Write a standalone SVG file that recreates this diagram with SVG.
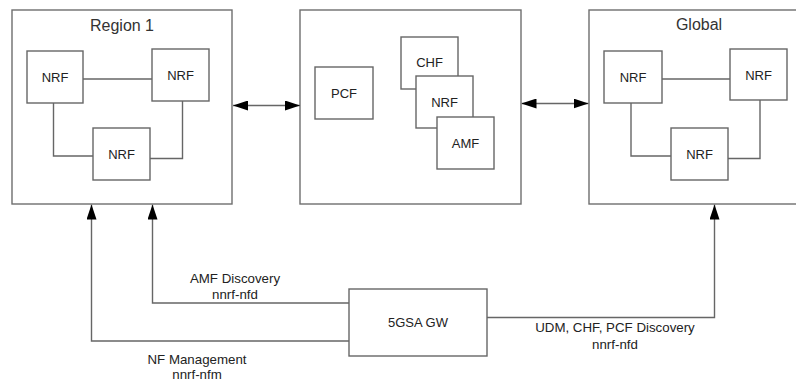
<svg xmlns="http://www.w3.org/2000/svg" width="796" height="384" viewBox="0 0 796 384">
<defs>
<style>
.box{fill:#fff;stroke:#6e6e6e;stroke-width:1.4}
.nf{fill:#fff;stroke:#666;stroke-width:1.4}
.ln{fill:none;stroke:#666;stroke-width:1.4}
.t{font-family:"Liberation Sans",Arial,sans-serif;font-size:13px;fill:#222;text-anchor:middle}
.title{font-family:"Liberation Sans",Arial,sans-serif;font-size:16px;fill:#333;text-anchor:middle}
.lbl{font-family:"Liberation Sans",Arial,sans-serif;font-size:13.3px;fill:#222;text-anchor:middle}
</style>
<marker id="ah" viewBox="0 0 15 10" refX="15" refY="5" markerWidth="15" markerHeight="10" markerUnits="userSpaceOnUse" orient="auto-start-reverse">
<path d="M0,0 L15,5 L0,10 Z" fill="#000"/>
</marker>
</defs>
<rect width="796" height="384" fill="#fff"/>
<g id="region1">
<rect class="box" x="12" y="10" width="220" height="194"/>
<text class="title" x="122" y="31">Region 1</text>
</g>
<g id="middle">
<rect class="box" x="300" y="10" width="221" height="194"/>
</g>
<g id="global">
<rect class="box" x="589" y="10" width="220" height="194"/>
<text class="title" x="699" y="30">Global</text>
</g>
<g id="connectors">
<polyline class="ln" points="83,79 152,79"/>
<polyline class="ln" points="53.5,103 53.5,156 93,156"/>
<polyline class="ln" points="182.5,101 182.5,158.5 150,158.5"/>
<polyline class="ln" points="662,79 730,79"/>
<polyline class="ln" points="631,103 631,156 671,156"/>
<polyline class="ln" points="760,100 760,158.5 728,158.5"/>
<line class="ln" x1="233" y1="105.5" x2="300" y2="105.5" marker-start="url(#ah)" marker-end="url(#ah)"/>
<line class="ln" x1="521.5" y1="103.5" x2="588.5" y2="103.5" marker-start="url(#ah)" marker-end="url(#ah)"/>
<polyline class="ln" points="349,303 152.5,303 152.5,204.5" marker-end="url(#ah)"/>
<polyline class="ln" points="349,341 91.5,341 91.5,204.5" marker-end="url(#ah)"/>
<polyline class="ln" points="487,317.5 714.5,317.5 714.5,204.5" marker-end="url(#ah)"/>
<text class="lbl" x="235" y="283">AMF Discovery</text>
<text class="lbl" x="235" y="299">nnrf-nfd</text>
<text class="lbl" x="197" y="364">NF Management</text>
<text class="lbl" x="197" y="379">nnrf-nfm</text>
<text class="lbl" x="615" y="332">UDM, CHF, PCF Discovery</text>
<text class="lbl" x="615" y="349">nnrf-nfd</text>
</g>
<g id="r1-nrf-a"><rect class="nf" x="27" y="51" width="56" height="52"/><text class="t" x="55" y="82">NRF</text></g>
<g id="r1-nrf-b"><rect class="nf" x="152" y="49" width="57" height="52"/><text class="t" x="180.5" y="80">NRF</text></g>
<g id="r1-nrf-c"><rect class="nf" x="93" y="128" width="57" height="52"/><text class="t" x="121.5" y="159">NRF</text></g>
<g id="pcf"><rect class="nf" x="315" y="67" width="58" height="52"/><text class="t" x="344" y="98">PCF</text></g>
<g id="chf"><rect class="nf" x="401" y="37" width="57" height="52"/><text class="t" x="429.5" y="67">CHF</text></g>
<g id="mid-nrf"><rect class="nf" x="416" y="76" width="57" height="52"/><text class="t" x="444.5" y="107">NRF</text></g>
<g id="amf"><rect class="nf" x="437" y="117" width="57" height="52"/><text class="t" x="465.5" y="147.5">AMF</text></g>
<g id="g-nrf-a"><rect class="nf" x="604" y="51" width="58" height="52"/><text class="t" x="633" y="82">NRF</text></g>
<g id="g-nrf-b"><rect class="nf" x="730" y="49" width="57" height="51"/><text class="t" x="758.5" y="80">NRF</text></g>
<g id="g-nrf-c"><rect class="nf" x="671" y="128" width="57" height="52"/><text class="t" x="699.5" y="159">NRF</text></g>
<g id="gw"><rect class="nf" x="349" y="289" width="138" height="67"/><text class="t" x="418" y="327">5GSA GW</text></g>
</svg>
